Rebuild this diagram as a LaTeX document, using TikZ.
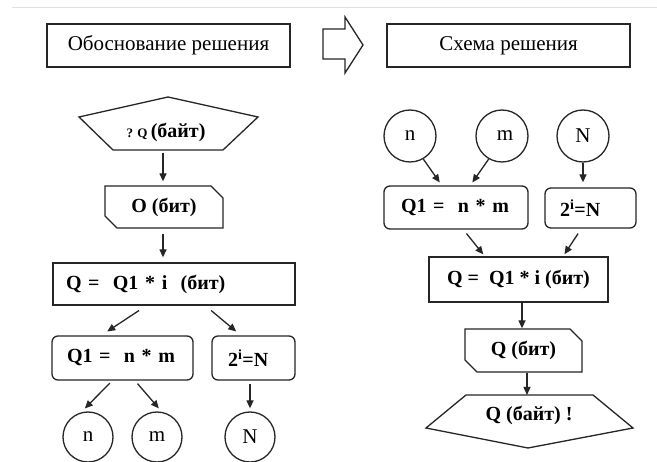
\documentclass[tikz,border=0pt]{standalone}
\usepackage{fontspec}
\setmainfont{Liberation Serif}
\usetikzlibrary{shapes.misc,calc,arrows.meta}
\tikzset{
 ln/.style={line width=1.3pt, draw=black!85},
 hdr/.style={ln, draw, rectangle, inner sep=0pt, font=\fontsize{21}{25}\selectfont},
 bx/.style={ln, draw, rectangle, inner sep=0pt, font=\bfseries\fontsize{20}{24}\selectfont},
 rbx/.style={bx, rounded corners=6pt},
 card/.style={bx, chamfered rectangle, chamfered rectangle corners={north east,south west}, chamfered rectangle xsep=6pt, chamfered rectangle ysep=6pt},
 circ/.style={ln, draw, circle, inner sep=0pt, font=\fontsize{21}{25}\selectfont},
 arr/.style={ln, -{Triangle[length=8pt,width=7pt]}},
 txt/.style={inner sep=0pt, font=\bfseries\fontsize{20}{24}\selectfont},
}
\begin{document}
\begin{tikzpicture}[x=1pt,y=-1pt]
\useasboundingbox (0,0) rectangle (657,462);
\clip (0,0) rectangle (657,462);
\fill[white] (0,0) rectangle (657,462);
\draw[black!12, line width=1pt] (12,8) -- (657,8);

% headers
\node[hdr, minimum width=243pt, minimum height=43pt] (hL) at (168.5,45.5) {Обоснование решения};
\node[hdr, minimum width=243pt, minimum height=43pt] (hR) at (508.5,45.5) {Схема решения};
\draw[ln, line join=miter] (323,29) -- (345,29) -- (345,17) -- (363,45) -- (345,73) -- (345,59) -- (323,59) -- cycle;

% left column
\draw[ln, line join=miter] (168,97) -- (258,117) -- (223,150) -- (113,150) -- (79,117) -- cycle;
\node[txt] (p1) at (166,132) {{\fontsize{13}{15}\selectfont ? Q}\,(байт)};
\coordinate (p1b) at (163,150);
\node[card, minimum width=118pt, minimum height=42pt] (o1) at (164,207) {O (бит)};
\node[bx, minimum height=42pt, text width=216pt, inner xsep=13pt, align=left] (q) at (174,284) {\mbox{Q =\ \ Q1 * i\ \ (бит)}};
\node[rbx, minimum height=44pt, text width=111pt, inner xsep=15pt, align=left] (q1L) at (122.5,358) {\mbox{Q1 =\ \ n * m}};
\node[rbx, minimum height=44pt, text width=51pt, inner xsep=16pt, align=left] (r1) at (253.5,358) {\mbox{2\textsuperscript{i}=N}};
\node[circ, minimum size=50pt] (n1) at (88,437) {n};
\node[circ, minimum size=50pt] (m1) at (157,437) {m};
\node[circ, minimum size=50pt] (N1) at (250,437) {N};

\draw[arr, shorten <=3pt, shorten >=4pt] (p1b) -- ([xshift=-1pt]o1.north);
\draw[arr, shorten <=5pt, shorten >=5pt] ([xshift=-1pt]o1.south) -- ([xshift=-11pt]q.north);
\draw[arr, shorten <=8.8pt, shorten >=7pt] ([xshift=94pt]q.south west) -- ([xshift=50pt]q1L.north west);
\draw[arr, shorten <=7.6pt, shorten >=6pt] ([xshift=153pt]q.south west) -- ([xshift=29.5pt]r1.north west);
\draw[arr, shorten <=3.5pt, shorten >=4pt] ([xshift=60.9pt]q1L.south west) -- ([xshift=-6pt]n1.north);
\draw[arr, shorten <=3.9pt, shorten >=3.9pt] ([xshift=83.6pt]q1L.south west) -- ([xshift=4.4pt]m1.north);
\draw[arr, shorten <=3pt, shorten >=3pt] ([xshift=-3.5pt]r1.south) -- (N1.north);

% right column
\node[circ, minimum size=52pt] (n2) at (410,136) {n};
\node[circ, minimum size=52pt] (m2) at (502,136) {\hspace*{6pt}m};
\node[circ, minimum size=52pt] (N2) at (583,136) {N};
\node[rbx, minimum height=43pt, text width=110pt, inner xsep=17pt, align=left] (q1R) at (456,207.5) {\mbox{Q1 =\ \ n * m}};
\node[rbx, minimum height=40pt, text width=61pt, inner xsep=15pt, align=left] (r2) at (590.5,208) {\mbox{2\textsuperscript{i}=N}};
\node[bx, minimum width=179pt, minimum height=45pt] (Q2) at (518.5,279.5) {Q =\ \ Q1 * i (бит)};
\node[card, minimum width=117pt, minimum height=43pt] (o2) at (523.5,350.5) {Q (бит)};
\draw[ln, line join=miter] (466,395) -- (593,395) -- (633,428) -- (528,448) -- (426,428) -- cycle;
\node[txt] (p2) at (529,415) {Q (байт) !};
\coordinate (p2t) at (527,395);

\draw[arr, shorten >=3.5pt] (n2.-60) -- ([xshift=58.4pt]q1R.north west);
\draw[arr, shorten >=3.5pt] (m2.-120) -- ([xshift=87pt]q1R.north west);
\draw[arr, shorten >=5pt] (N2.south) -- ([xshift=-7.5pt]r2.north);
\draw[arr, shorten <=5pt, shorten >=2.5pt] ([xshift=80pt]q1R.south west) -- ([xshift=56.5pt]Q2.north west);
\draw[arr, shorten <=6pt, shorten >=2.5pt] ([xshift=37pt]r2.south west) -- ([xshift=134.7pt]Q2.north west);
\draw[arr] ([xshift=3.5pt]Q2.south) -- ([xshift=-1.5pt]o2.north);
\draw[arr] ([xshift=3.5pt]o2.south) -- (p2t);
\end{tikzpicture}
\end{document}
